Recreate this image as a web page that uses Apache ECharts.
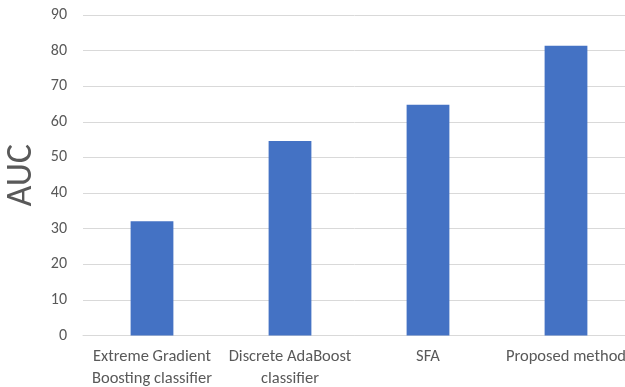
<!DOCTYPE html>
<html>
<head>
<meta charset="utf-8">
<script src="https://cdn.jsdelivr.net/npm/echarts@6/dist/echarts.min.js"></script>
<style>
  html, body { margin: 0; padding: 0; background: #fff; }
  #chart { width: 625px; height: 387px; }
</style>
</head>
<body>
<div id="chart"></div>
<script>
// Methods compared and their AUC scores
const categories = [
  'Extreme Gradient\nBoosting classifier',
  'Discrete AdaBoost\nclassifier',
  'SFA',
  'Proposed method'
];
const aucValues = [32.1, 54.6, 64.8, 81.4];
const yTicks = { min: 0, max: 90, interval: 10 };

const FONT = 'Carlito, Calibri, "Open Sans", sans-serif';
const chart = echarts.init(document.getElementById('chart'));
chart.setOption({
  animation: false,
  grid: {
    left: 83, right: -10, top: 15, bottom: 51.5,
    containLabel: false,
    outerBoundsMode: 'none'
  },
  xAxis: {
    type: 'category',
    data: categories,
    axisLine: { lineStyle: { color: '#d9d9d9', width: 1 } },
    axisTick: { show: false },
    axisLabel: {
      color: '#595959', fontSize: 16.5, fontFamily: FONT,
      lineHeight: 21.5, margin: 11, interval: 0,
      hideOverlap: false
    }
  },
  yAxis: {
    type: 'value',
    min: yTicks.min, max: yTicks.max, interval: yTicks.interval,
    name: 'AUC',
    nameLocation: 'middle',
    nameGap: 40,
    nameTextStyle: { color: '#595959', fontSize: 36, fontFamily: FONT },
    axisLine: { show: false },
    axisTick: { show: false },
    axisLabel: { color: '#595959', fontSize: 16, fontFamily: FONT, margin: 16 },
    splitLine: { lineStyle: { color: '#d9d9d9', width: 1 } }
  },
  series: [{
    type: 'bar',
    data: aucValues,
    barWidth: '31%',
    itemStyle: { color: '#4472c4' }
  }]
});
</script>
</body>
</html>
